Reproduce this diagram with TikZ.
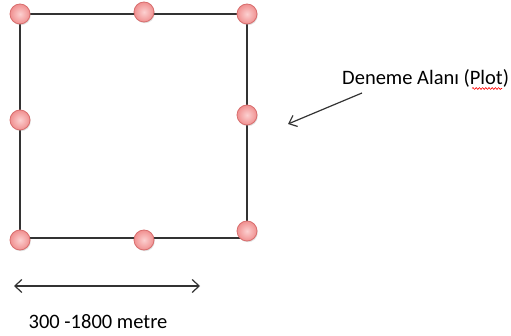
\documentclass[tikz,border=0pt]{standalone}
\usepackage{fontspec}
\setmainfont{Carlito}
\usetikzlibrary{arrows.meta,decorations.pathmorphing,shadows}
\definecolor{pinkin}{HTML}{FCD0D0}
\definecolor{pinkout}{HTML}{F09090}
\definecolor{pinkedge}{HTML}{D86E6E}
\definecolor{edgegray}{HTML}{333333}
\tikzset{
  post/.style={circle, minimum size=20pt, inner sep=0pt, draw=pinkedge, line width=0.8pt,
    inner color=pinkin, outer color=pinkout,
    drop shadow={shadow xshift=0.8pt, shadow yshift=-1.2pt, opacity=0.25}},
  side/.style={draw=edgegray, line width=1.2pt},
  lbl/.style={font=\fontsize{20.5}{24}\selectfont, text=black, inner sep=0pt},
  pointer/.style={draw=edgegray, line width=1.2pt, -{Straight Barb[length=7pt,width=12pt]}},
  span/.style={draw=edgegray, line width=1.2pt, {Straight Barb[length=7pt,width=13pt]}-{Straight Barb[length=7pt,width=13pt]}},
  squiggle/.style={draw=red, line width=0.6pt, decorate, decoration={snake, amplitude=0.9pt, segment length=3.2pt}}
}
\begin{document}
\begin{tikzpicture}[x=1pt,y=-1pt]
\useasboundingbox (0,0) rectangle (511,336);
% plot corners
\coordinate (c1) at (20,14);
\coordinate (c2) at (247,14);
\coordinate (c3) at (247,232);
\coordinate (c4) at (20,238);
\coordinate (c5) at (247,238);
% plot boundary
\draw[side] (c1) -- (c2) -- (c3);
\draw[side] (c1) -- (c4) -- (c5);
% posts
\node[post] (tl) at (20,14) {};
\node[post] (tm) at (144,12) {};
\node[post] (tr) at (247,14) {};
\node[post] (ml) at (20,120) {};
\node[post] (mr) at (247,115) {};
\node[post] (bl) at (20,240) {};
\node[post] (bm) at (144,240) {};
\node[post] (br) at (247,231) {};
% plot label with pointer
\node[lbl, anchor=west] (plot) at (342,78) {Deneme Alanı (Plot)};
\coordinate (ptip) at (288,124);
\coordinate (pstart) at (362,93);
\draw[pointer] (pstart) -- (ptip);
\coordinate (wa) at (472,88.5);
\coordinate (wb) at (502,88.5);
\draw[squiggle] (wa) -- (wb);
% side length
\coordinate (sa) at (14,286);
\coordinate (sb) at (200,286);
\draw[span] (sa) -- (sb);
\node[lbl] (len) at (98,322) {300 -1800 metre};
\end{tikzpicture}
\end{document}
